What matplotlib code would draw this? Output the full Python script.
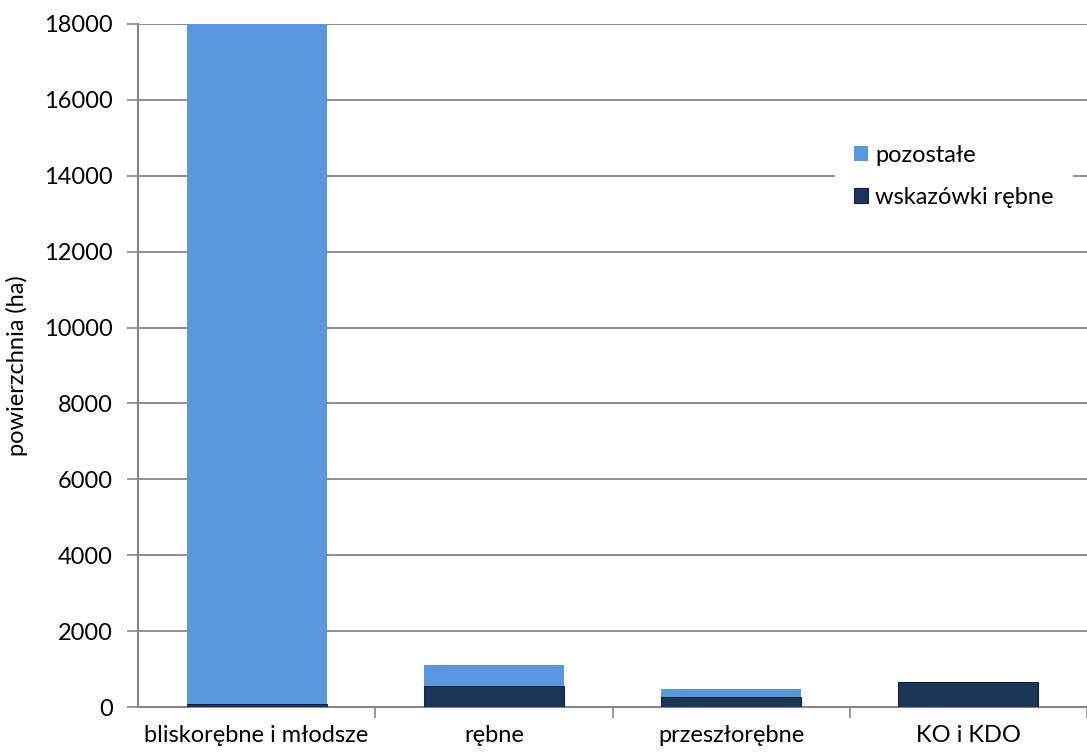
import matplotlib
matplotlib.use("Agg")
import matplotlib.pyplot as plt
import numpy as np

categories = ["bliskorębne i młodsze", "rębne", "przeszłorębne", "KO i KDO"]
wskazowki = [80, 560, 270, 650]
pozostale = [17920, 545, 205, 0]
yticks = [0, 2000, 4000, 6000, 8000, 10000, 12000, 14000, 16000, 18000]

plt.rcParams['font.family'] = ['Lato', 'DejaVu Sans']

fig = plt.figure(figsize=(10.87, 7.54), dpi=100)
ax = fig.add_axes([138 / 1087, 1 - 707 / 754, (1087 - 138) / 1087, (707 - 24) / 754])

x = np.arange(len(categories))
w = 0.59
c_poz = "#5b97dc"
c_wsk = "#1c3557"

b1 = ax.bar(x, wskazowki, w, color=c_wsk, edgecolor="#10233d", linewidth=0.8,
            label="wskazówki rębne", zorder=3)
b2 = ax.bar(x, pozostale, w, bottom=wskazowki, color=c_poz, linewidth=0,
            label="pozostałe", zorder=3)

ax.set_ylim(0, 18000)
ax.set_xlim(-0.5, -0.5 + 949 / 239)
ax.set_yticks(yticks)
ax.set_yticklabels([str(v) for v in yticks], fontsize=17)
ax.set_xticks(x)
ax.set_xticklabels(categories, fontsize=17)
ax.set_xticks(np.arange(len(categories)) + 0.5, minor=True)
ax.tick_params(axis="x", which="major", length=0, pad=13)
ax.tick_params(axis="x", which="minor", length=8, width=1.2, color="#868686")
ax.tick_params(axis="y", length=8, width=1.2, color="#868686", pad=10)

ax.grid(axis="y", color="#868686", linewidth=1.3, zorder=0)
for s in ["top", "right"]:
    ax.spines[s].set_visible(False)
for s in ["left", "bottom"]:
    ax.spines[s].set_color("#868686")
    ax.spines[s].set_linewidth(1.5)

ax.set_ylabel("powierzchnia (ha)", fontsize=17, labelpad=12)

leg = ax.legend(handles=[b2, b1], loc="upper left", bbox_to_anchor=(0.722, 0.868),
                frameon=True, fontsize=17, handlelength=0.6, handleheight=0.6,
                handletextpad=0.3, labelspacing=0.9, borderpad=0.8)
leg.get_frame().set_edgecolor("none")
leg.get_frame().set_facecolor("white")
leg.get_frame().set_alpha(1)

fig.savefig("out.png", dpi=100)
